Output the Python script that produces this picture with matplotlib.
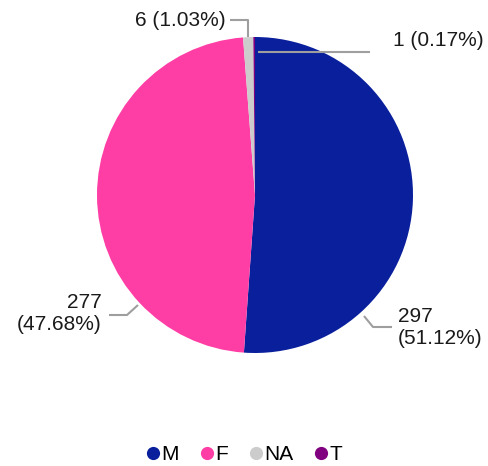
import matplotlib
matplotlib.use("Agg")
import matplotlib.pyplot as plt
from matplotlib.lines import Line2D

# Data
labels = ["M", "F", "NA", "T"]
counts = [297, 277, 6, 1]
colors = ["#0a1f9c", "#ff3ea5", "#cccccc", "#800080"]

W, H = 488, 466
plt.rcParams["font.family"] = ["Liberation Sans", "DejaVu Sans"]


def py(y):
    # pixel row (from top) -> data y
    return H - y


total = sum(counts)
texts = []
for c in counts:
    texts.append(f"{c} ({c / total * 100:.2f}%)")

# Label layout: (text x, text y, ha, multiline, leader points in px)
layout = {
    "M": (398, 327, "left", True, [(364, 316), (373, 327), (392, 327)]),
    "F": (102, 314, "right", True, [(138, 305), (127, 315), (109, 315)]),
    "NA": (226, 20, "right", False, [(230, 20), (248, 20), (248, 37)]),
    "T": (393, 40, "left", False, [(258, 52), (370, 52)]),
}

fig = plt.figure(figsize=(W / 100, H / 100), dpi=100)
ax = fig.add_axes([0, 0, 1, 1])

ax.pie(
    counts,
    colors=colors,
    startangle=90,
    counterclock=False,
    center=(255, py(195)),
    radius=158,
    wedgeprops=dict(linewidth=0),
)
ax.set_xlim(0, W)
ax.set_ylim(0, H)
ax.set_aspect("equal")
ax.axis("off")

# Labels with leader lines
for lab, txt in zip(labels, texts):
    x, y, ha, multi, pts = layout[lab]
    if multi:
        txt = txt.replace(" ", "\n")
    ax.plot(
        [p[0] for p in pts],
        [py(p[1]) for p in pts],
        color="#9e9e9e",
        linewidth=1.5,
        zorder=5,
        solid_capstyle="butt",
    )
    ax.text(
        x, py(y), txt,
        ha=ha, va="center",
        multialignment=ha,
        fontsize=15,
        color="#1a1a1a",
        linespacing=1.2,
    )

# Legend
handles = [
    Line2D([], [], marker="o", linestyle="", markersize=9.5,
           markerfacecolor=col, markeredgewidth=0)
    for col in colors
]
fig.legend(
    handles, labels,
    loc="center",
    bbox_to_anchor=(0.5, 11 / H),
    ncol=4,
    frameon=False,
    fontsize=15,
    handlelength=0.7,
    handletextpad=0.05,
    columnspacing=1.0,
)

fig.savefig("out.png", dpi=100, facecolor="white")
